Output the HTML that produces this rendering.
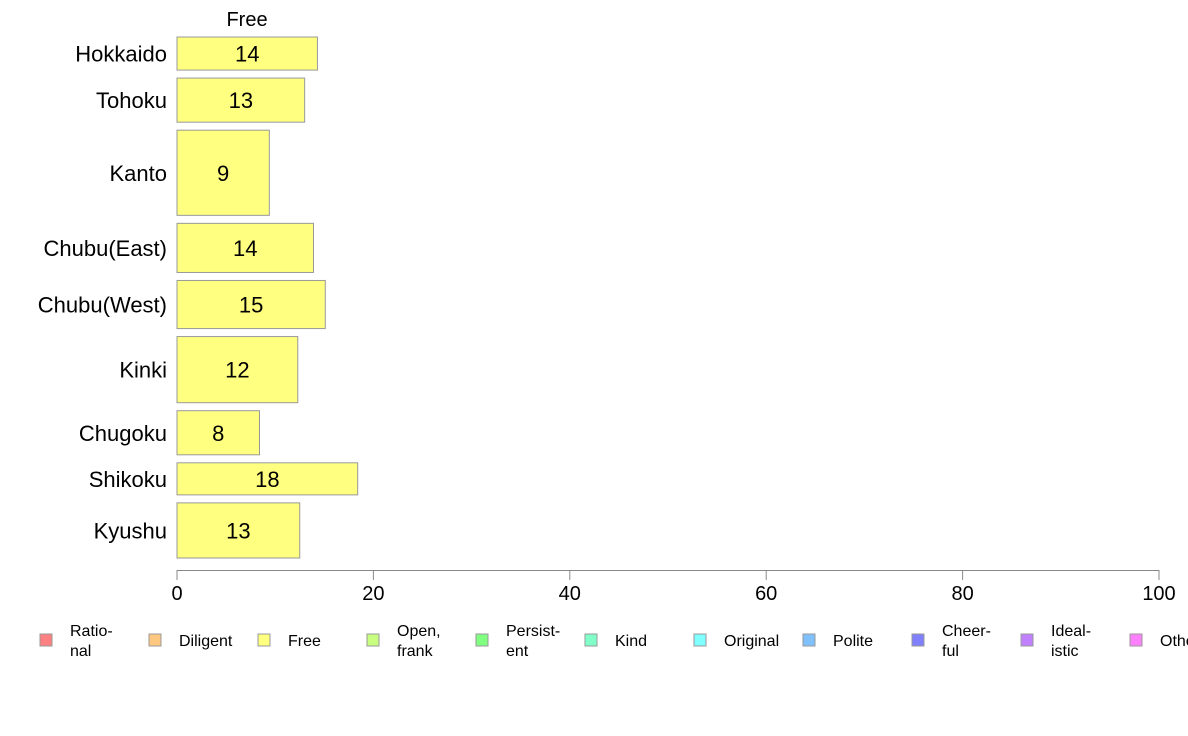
<!DOCTYPE html>
<html><head><meta charset="utf-8"><style>
html,body{margin:0;padding:0;background:#fff;}
svg{display:block;font-family:"Liberation Sans",Arial,sans-serif;}
</style></head><body>
<svg id="chart" width="1188" height="736" viewBox="0 0 1188 736" xmlns="http://www.w3.org/2000/svg">
<text x="247" y="26" font-size="20" text-anchor="middle" fill="#000">Free</text>
<g id="bars"></g>
<g id="axis"></g>
<g id="legend"></g>
</svg>
<script>
const categories = ["Hokkaido","Tohoku","Kanto","Chubu(East)","Chubu(West)","Kinki","Chugoku","Shikoku","Kyushu"];
const values = [14.3,13.0,9.4,13.9,15.1,12.3,8.4,18.4,12.5];
const weights = [33,44,85,49,48,66,44,32,55];
const ticks = [0,20,40,60,80,100];
const legendLabels = [["Ratio-","nal"],["Diligent"],["Free"],["Open,","frank"],["Persist-","ent"],["Kind"],["Original"],["Polite"],["Cheer-","ful"],["Ideal-","istic"],["Other"]];
const legendColors = ["#ff8080","#ffc880","#ffff80","#c8ff80","#80ff80","#80ffc8","#80ffff","#80c0ff","#8080ff","#c080ff","#ff80ff"];

const NS="http://www.w3.org/2000/svg";
const x0=177,x1=1159,yTop=37,yBot=558,gap=8;
const xs=v=>x0+(v/100)*(x1-x0);
const totalW=weights.reduce((a,b)=>a+b,0);
const scaleH=(yBot-yTop-gap*(weights.length-1))/totalW;
function mk(t,a){const e=document.createElementNS(NS,t);for(const k in a)e.setAttribute(k,a[k]);return e;}
const bars=document.getElementById('bars');
let y=yTop;
categories.forEach((c,i)=>{
  const h=weights[i]*scaleH;
  const r=mk('rect',{x:x0,y:y,width:xs(values[i])-x0,height:h,fill:'#ffff80',stroke:'#999','stroke-width':1});
  
  
  bars.appendChild(r);
  const t=mk('text',{x:(x0+xs(values[i]))/2,y:y+h/2+8,'font-size':22,'text-anchor':'middle',fill:'#000'});
  t.textContent=Math.round(values[i]);
  
  
  bars.appendChild(t);
  const l=mk('text',{x:167,y:y+h/2+8,'font-size':22,'text-anchor':'end',fill:'#000'});
  l.textContent=c;
  
  
  bars.appendChild(l);
  y+=h+gap;
});
const ax=document.getElementById('axis');
const line=mk('line',{x1:x0,x2:x1,y1:570.5,y2:570.5,stroke:'#888','stroke-width':1});


ax.appendChild(line);
ticks.forEach(v=>{
  const tk=mk('line',{x1:xs(v),x2:xs(v),y1:570,y2:580,stroke:'#888','stroke-width':1});
  
  
  ax.appendChild(tk);
  const t=mk('text',{x:xs(v),y:600,'font-size':20,'text-anchor':'middle',fill:'#000'});
  t.textContent=v;
  
  
  ax.appendChild(t);
});
const lg=document.getElementById('legend');
legendLabels.forEach((lab,i)=>{
  const lx=40+i*109;
  const r=mk('rect',{x:lx,y:634,width:12,height:12,fill:legendColors[i],stroke:'#999','stroke-width':1});
  
  
  lg.appendChild(r);
  lab.forEach((s,j)=>{
    const yy=lab.length===1?646:(636+j*20);
    const t=mk('text',{x:lx+30,y:yy,'font-size':16,fill:'#000'});
    t.textContent=s;
    
    
    lg.appendChild(t);
  });
});
</script>
</body></html>
